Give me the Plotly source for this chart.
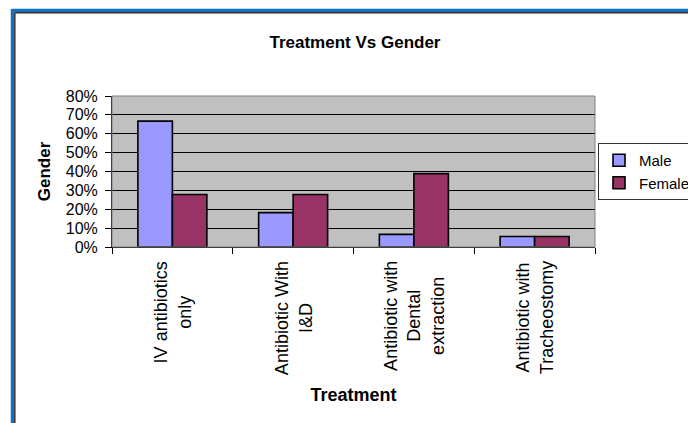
import plotly.graph_objects as go

categories = ["IV antibiotics<br>only", "Antibiotic With<br>I&D",
              "Antibiotic with<br>Dental<br>extraction", "Antibiotic with<br>Tracheostomy"]
cat_keys = ["IV", "ID", "Dental", "Trach"]
male = [0.667, 0.182, 0.067, 0.056]
female = [0.278, 0.278, 0.389, 0.056]
y_ticks = [0, 0.1, 0.2, 0.3, 0.4, 0.5, 0.6, 0.7, 0.8]

FONT = "Liberation Sans, Arial, sans-serif"
W, H = 688, 423
L, R, T, B = 112, 93, 96, 176
PW, PH = W - L - R, H - T - B

def px_x(px):
    return (px - L) / PW

def px_y(py):
    return (H - B - py) / PH

fig = go.Figure()
fig.add_trace(go.Bar(x=cat_keys, y=male, name="Male", legendgroup="m",
                     marker=dict(color="#9999FF", line=dict(color="#000000", width=1.6))))
fig.add_trace(go.Bar(x=cat_keys, y=female, name="Female", legendgroup="f",
                     marker=dict(color="#993366", line=dict(color="#000000", width=1.6))))

annotations = []
for key, lab in zip(cat_keys, categories):
    annotations.append(dict(x=key, xref="x", y=0, yref="paper", yshift=-12,
                            text=lab, showarrow=False, textangle=-90,
                            xanchor="center", yanchor="top", align="center",
                            font=dict(family=FONT, size=18, color="#000000")))

shapes = [
    dict(type="rect", xref="paper", yref="paper", x0=0, x1=1, y0=0, y1=1,
         line=dict(color="#808080", width=1), layer="above"),
    dict(type="line", xref="paper", yref="paper", x0=px_x(12.5), x1=px_x(12.5),
         y0=px_y(430), y1=px_y(9), line=dict(color="#1470C0", width=3.5)),
    dict(type="line", xref="paper", yref="paper", x0=px_x(12.5), x1=px_x(700),
         y0=px_y(10.5), y1=px_y(10.5), line=dict(color="#1470C0", width=3.5)),
    dict(type="line", xref="paper", yref="paper", x0=px_x(14.8), x1=px_x(14.8),
         y0=px_y(430), y1=px_y(12.8), line=dict(color="#333333", width=1.5)),
    dict(type="line", xref="paper", yref="paper", x0=px_x(14.8), x1=px_x(700),
         y0=px_y(12.8), y1=px_y(12.8), line=dict(color="#333333", width=1.5)),
]

fig.update_layout(
    width=W, height=H,
    margin=dict(l=L, r=R, t=T, b=B, autoexpand=False),
    paper_bgcolor="#FFFFFF", plot_bgcolor="#C0C0C0",
    barmode="group", bargap=0.4286, bargroupgap=0,
    title=dict(text="<b>Treatment Vs Gender</b>", x=px_x(355), xanchor="center",
               xref="paper", y=1 - 42 / H, yanchor="middle",
               font=dict(family=FONT, size=17, color="#000000")),
    font=dict(family=FONT, color="#000000"),
    showlegend=True,
    legend=dict(x=px_x(598), y=px_y(143), xanchor="left", yanchor="top",
                bgcolor="#FFFFFF", bordercolor="#333333", borderwidth=1,
                itemwidth=30,
                font=dict(family=FONT, size=15, color="#000000"),
                tracegroupgap=7, traceorder="normal"),
    xaxis=dict(showticklabels=False, ticks="outside", ticklen=6, tickcolor="#000000",
               tickson="boundaries", showline=True, linecolor="#000000", linewidth=1,
               showgrid=False, zeroline=False,
               title=dict(text="<b>Treatment</b>", standoff=141,
                          font=dict(family=FONT, size=18, color="#000000"))),
    yaxis=dict(range=[0, 0.8], tickvals=y_ticks, tickformat=".0%",
               ticks="outside", ticklen=6, tickcolor="#000000",
               showline=True, linecolor="#000000", linewidth=1,
               showgrid=True, gridcolor="#000000", gridwidth=1, zeroline=False,
               tickfont=dict(family=FONT, size=16, color="#000000"),
               ticklabelstandoff=4,
               title=dict(text="<b>Gender</b>", standoff=10,
                          font=dict(family=FONT, size=17, color="#000000"))),
    annotations=annotations,
    shapes=shapes,
)

fig.write_html("out.html")
